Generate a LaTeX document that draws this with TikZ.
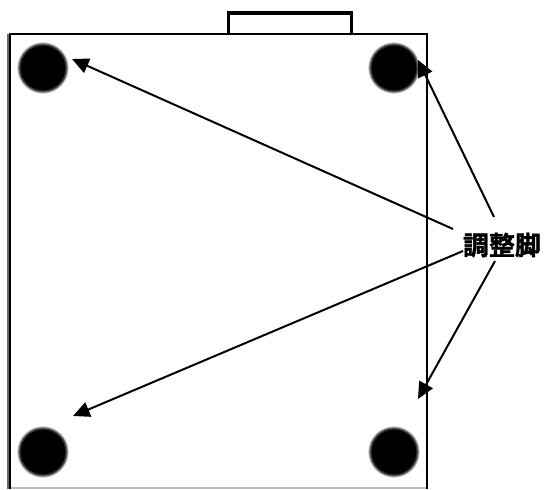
\documentclass[tikz,border=0pt]{standalone}
\usepackage{fontspec}
\usetikzlibrary{arrows.meta}
\newfontfamily\cjklabel[BoldFont={Noto Sans CJK JP Bold},BoldFeatures={FakeBold=1.6}]{Noto Sans CJK JP}
\tikzset{
  px/.style={x=0.75pt,y=-0.75pt},
  outline/.style={draw=black,line width=2pt,line join=miter},
  taboutline/.style={draw=black,line width=2.6pt,line join=miter},
  pointer/.style={draw=black,line width=1.5pt,-{Triangle[length=12.5pt,width=11.5pt]}},
  foota/.style={circle,minimum size=38.5pt,inner sep=0pt,fill=black!25},
  footb/.style={circle,minimum size=37pt,inner sep=0pt,fill=black!55},
  footc/.style={circle,minimum size=35.5pt,inner sep=0pt,fill=black!80},
  footcore/.style={circle,minimum size=33.5pt,inner sep=0pt,fill=black},
  labeltext/.style={inner sep=0pt,minimum width=58.5pt,minimum height=19.5pt,font=\cjklabel\bfseries\fontsize{19.5pt}{19.5pt}\selectfont}
}
\begin{document}
\begin{tikzpicture}[px]
\useasboundingbox (0,0) rectangle (546,489);
% body and tab
\draw[taboutline] (228.5,34) -- (228.5,13) -- (351.5,13) -- (351.5,34);
\draw[draw=black!25,line width=1pt] (9,488) -- (427,488);
\draw[draw=black!60,line width=1.6pt] (8.5,34) -- (8.5,489);
\draw[outline] (10,489) -- (10,34) -- (427,34) -- (427,489);
% feet
\foreach \n/\x/\y in {tl/43/68,tr/394/68,bl/43/452,br/394/452}{
  \node[foota] at (\x,\y) {};
  \node[footb] at (\x,\y) {};
  \node[footc] at (\x,\y) {};
  \node[footcore] (foot\n) at (\x,\y) {};
}
% label
\node[labeltext] (lbl) at (502,245) {調整脚};
% arrow tips
\coordinate (tiptl) at (72,59);
\coordinate (tiptr) at (418,60);
\coordinate (tipbl) at (73,416);
\coordinate (tipbr) at (418,399);
\draw[pointer] ([shift={(-49,-16)}]lbl.center) -- (tiptl);
\draw[pointer] ([shift={(-8,-28)}]lbl.center) -- (tiptr);
\draw[pointer] ([shift={(-39,6)}]lbl.center) -- (tipbl);
\draw[pointer] ([shift={(-7,16)}]lbl.center) -- (tipbr);
\end{tikzpicture}
\end{document}
